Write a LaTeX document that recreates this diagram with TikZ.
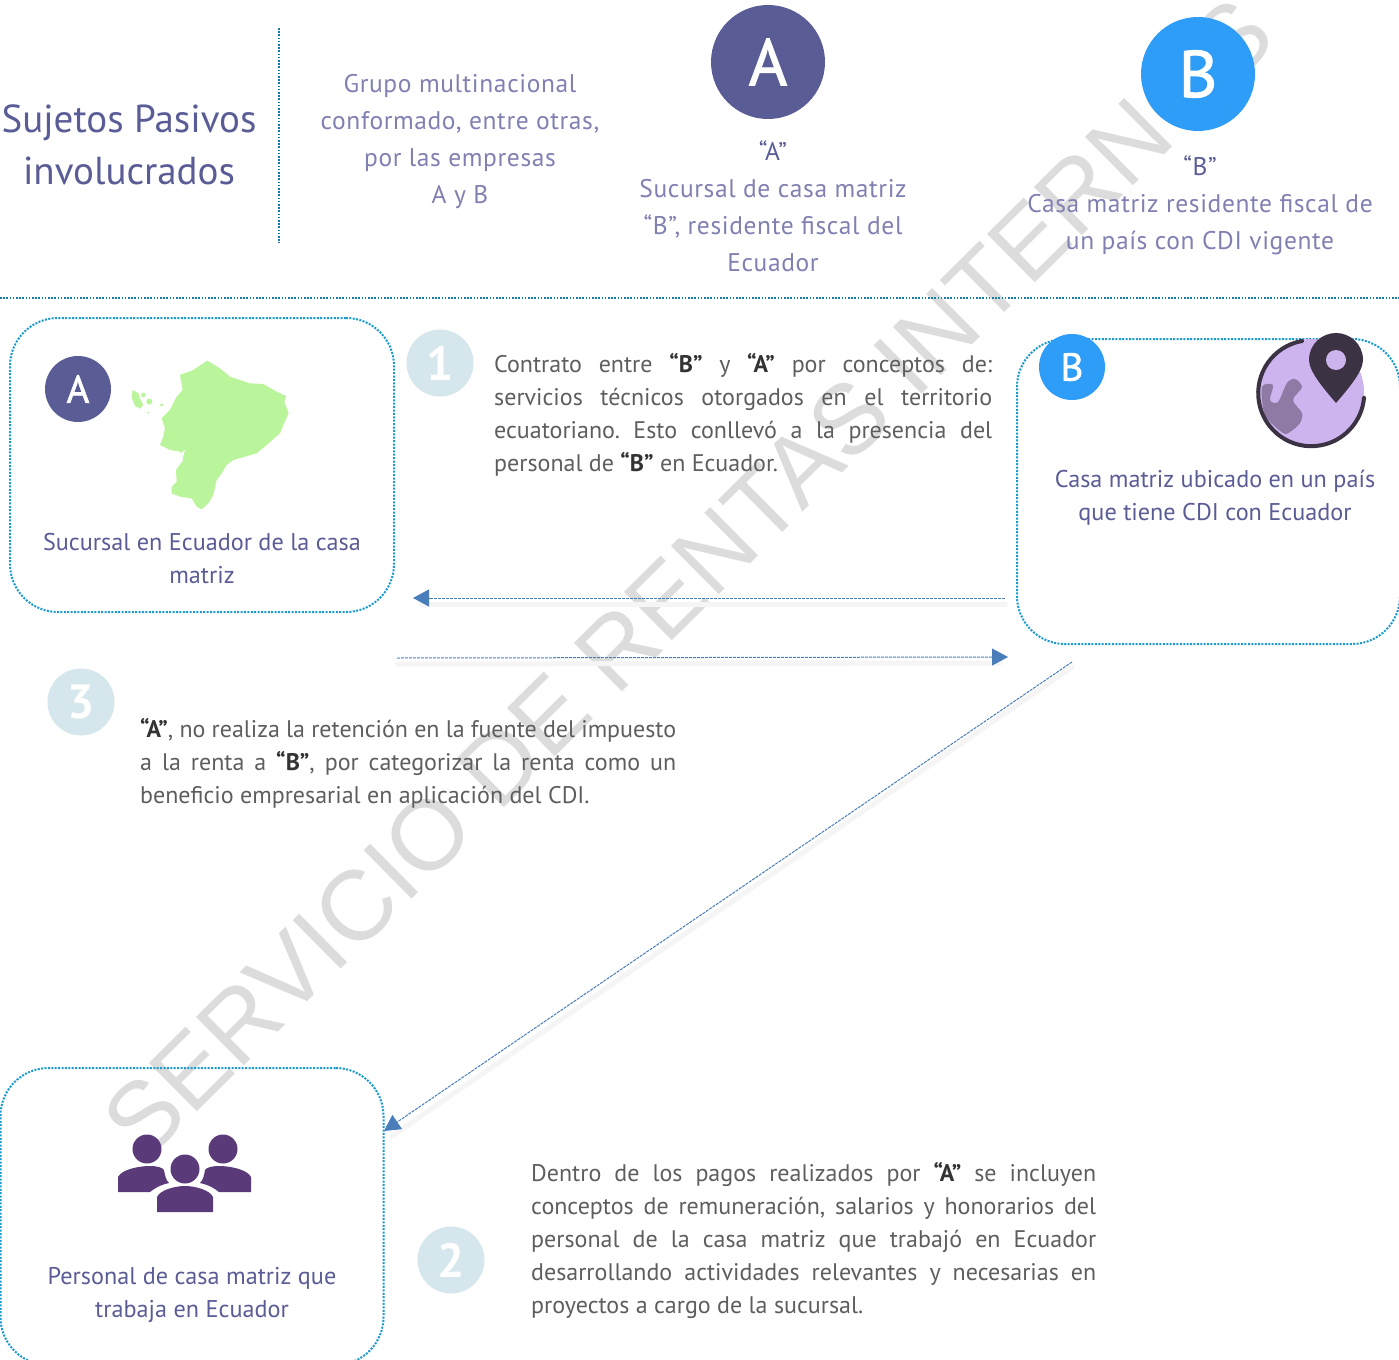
\documentclass[tikz,border=0pt]{standalone}
\usepackage{fontspec}
\setmainfont{PT Sans}
\newfontfamily\wmfont{Liberation Sans}
\newfontfamily\letterfont[FakeBold=1.5]{PT Sans}
\usetikzlibrary{arrows.meta}
\hyphenpenalty=10000
\tolerance=9999
\hbadness=10000
\frenchspacing
\definecolor{indigo}{HTML}{5A5C96}
\definecolor{lighttxt}{HTML}{8080B2}
\definecolor{bodytxt}{HTML}{5E5E5E}
\definecolor{dotblue}{HTML}{1A9BD0}
\definecolor{arrowblue}{HTML}{4A7EBB}
\definecolor{paleround}{HTML}{D5E6EC}
\definecolor{bcircle}{HTML}{2E9DF7}
\definecolor{wm}{HTML}{DCDCDC}
\definecolor{mapgreen}{HTML}{BBF59B}
\definecolor{lilac}{HTML}{CDB4EE}
\definecolor{land}{HTML}{8F7AA5}
\definecolor{pincol}{HTML}{3B3243}
\definecolor{people}{HTML}{5A3A78}
\tikzset{
 dotbox/.style={draw=dotblue,line width=2pt,dash pattern=on 2pt off 1.4pt,rounded corners=48pt,minimum width=#1},
 dotline/.style={draw=dotblue!80!black,line width=1.6pt,dash pattern=on 1.6pt off 1.6pt},
 conn/.style={draw=arrowblue,line width=1pt,dash pattern=on 3pt off 1pt,-{Triangle[length=16pt,width=17pt,fill=arrowblue]}},
 connsh/.style={draw=black!4,line width=5pt,line cap=round},
 head/.style={text=lighttxt,font=\fontsize{25.5}{37}\selectfont\addfontfeatures{LetterSpace=2.4},align=center,inner sep=0pt},
 boxtxt/.style={text=indigo,font=\fontsize{24.2}{33}\selectfont,align=center,inner sep=0pt},
 para/.style={text=bodytxt,font=\fontsize{24}{33}\selectfont,align=justify,inner sep=0pt,anchor=north west,text width=#1},
 letter/.style={circle,minimum size=#1,inner sep=0pt,text=white},
 digit/.style={circle,fill=paleround,minimum size=67pt,inner sep=0pt,text=white,font=\fontsize{48}{48}\selectfont\bfseries},
}
\newcommand{\qb}[1]{\textcolor{black!80}{\textbf{#1}}}
\newcommand{\qh}[1]{\textcolor{indigo}{#1}}
\begin{document}
\begin{tikzpicture}[x=1pt,y=-1pt]
\useasboundingbox (0,0) rectangle (1399,1359);
\clip (0,0) rectangle (1399,1359);
\fill[white] (0,0) rectangle (1399,1359);
% watermark
\node[rotate=44.7,text=wm,font=\wmfont\fontsize{99}{99}\selectfont,inner sep=0pt] (watermark) at (688,578) {SERVICIO DE RENTAS INTERNOS};
% header
\node[text=indigo,font=\fontsize{39}{52}\selectfont,align=center,inner sep=0pt] (title) at (129,145) {Sujetos Pasivos\\involucrados};
\coordinate (vt) at (279,28); \coordinate (vb) at (279,243);
\draw[dotline] (vt) -- (vb);
\coordinate (hl) at (0,298); \coordinate (hr) at (1399,298);
\draw[dotline] (hl) -- (hr);
\node[head] (grupo) at (460,141.5) {Grupo multinacional\\conformado, entre otras,\\por las empresas\\A y B};
\node[letter=114pt,fill=indigo,font=\letterfont\fontsize{66}{66}\selectfont] (bigA) at (768,62) {A};
\node[letter=114pt,fill=bcircle,font=\letterfont\fontsize{66}{66}\selectfont] (bigB) at (1198,74) {B};
\node[head] (descA) at (773,206) {\qh{“A”}\\Sucursal de casa matriz\\“B”, residente fiscal del\\Ecuador};
\node[head] (descB) at (1200,205) {\qh{“B”}\\Casa matriz residente fiscal de\\un país con CDI vigente};
% boxes
\node[dotbox=384pt,minimum height=294pt] (boxA) at (202,465) {};
\node[dotbox=383pt,minimum height=305pt] (boxB) at (1208.5,491.5) {};
\node[dotbox=383pt,minimum height=297pt] (boxC) at (192,1216.5) {};
% map of Ecuador
\begin{scope}[shift={(0,310)},x=0.3333pt,y=-0.3333pt]
\fill[mapgreen] (622,152)--(660,175)--(690,200)--(750,220)--(790,222)--(830,245)--(858,258)--(853,275)--(866,310)--(850,345)--(840,370)--(800,405)--(770,430)--(700,450)--(680,465)--(665,490)--(650,510)--(640,555)--(625,580)--(605,598)--(590,590)--(575,565)--(540,560)--(515,550)--(515,530)--(530,515)--(528,480)--(550,450)--(540,425)--(510,420)--(480,405)--(490,380)--(495,355)--(485,325)--(510,300)--(530,260)--(548,240)--(540,195)--(580,180)--cycle;
\fill[white] (555,420)--(540,432)--(530,460)--(545,455)--cycle;
\fill[mapgreen] (398,240)--(415,250)--(420,265)--(430,285)--(420,296)--(405,288)--(395,262)--cycle;
\fill[mapgreen] (430,255) circle[radius=7];
\fill[mapgreen] (448,275) circle[radius=9];
\fill[mapgreen] (485,285) circle[radius=5];
\fill[mapgreen] (445,308) circle[radius=3];
\end{scope}
\node[letter=66pt,fill=indigo,font=\letterfont\fontsize{39}{39}\selectfont] (smallA) at (78,389) {A};
\node[boxtxt] (txtA) at (202,559) {Sucursal en Ecuador de la casa\\matriz};
% globe
\fill[lilac] (1311,392) circle[radius=53];
\fill[land] plot[smooth cycle,tension=0.5] coordinates {(1262,387) (1273,385) (1270,400) (1278,402) (1287,383) (1295,379) (1302,387) (1293,400) (1302,413) (1300,423) (1290,432) (1283,433) (1265,415)};
\draw[pincol,line width=4pt,line cap=round] (1302,341) arc[start angle=-100,end angle=-355,radius=53];
\fill[pincol] (1336,403) .. controls (1325,390) and (1309,372) .. (1309,360) .. controls (1309,344) and (1322,333) .. (1336,333) .. controls (1350,333) and (1363,344) .. (1363,360) .. controls (1363,372) and (1347,390) .. (1336,403) -- cycle;
\fill[lilac] (1336,360) circle[radius=10];
\node[letter=66pt,fill=bcircle,font=\letterfont\fontsize{39}{39}\selectfont] (smallB) at (1072,367) {B};
\node[boxtxt] (txtB) at (1215,498) {Casa matriz ubicado en un país\\que tiene CDI con Ecuador};
% people
\begin{scope}[fill=people]
\fill (147,1149) circle[radius=14.5];
\fill (223,1149) circle[radius=14.5];
\fill (185,1169) circle[radius=14.5];
\fill (118,1192) -- (118,1177) .. controls (122,1169) and (140,1166) .. (150,1166) .. controls (158,1166) and (163,1168) .. (164,1170) .. controls (165,1176) and (166,1180) .. (169,1183) .. controls (160,1185) and (155,1188) .. (150,1192) -- cycle;
\fill (251,1192) -- (251,1177) .. controls (247,1169) and (229,1166) .. (219,1166) .. controls (211,1166) and (206,1168) .. (205,1170) .. controls (204,1176) and (203,1180) .. (200,1183) .. controls (209,1185) and (214,1188) .. (219,1192) -- cycle;
\fill (157,1212) -- (157,1197) .. controls (160,1190) and (175,1186) .. (185,1186) .. controls (195,1186) and (210,1190) .. (213,1197) -- (213,1212) -- cycle;
\end{scope}
\node[boxtxt] (txtC) at (192,1295) {Personal de casa matriz que\\trabaja en Ecuador};
% digits
\node[digit] (d1) at (440,363) {1};
\node[digit] (d3) at (81,702) {3};
\node[digit] (d2) at (451,1260) {2};
% paragraphs
\node[para=498pt] (p1) at (494,353) {Contrato entre \qb{“B”} y \qb{“A”} por conceptos de:\linebreak servicios técnicos otorgados en el territorio\linebreak ecuatoriano. Esto conllevó a la presencia del\linebreak personal de \qb{“B”} en Ecuador.};
\node[para=536pt] (p3) at (140,718) {\qb{“A”}, no realiza la retención en la fuente del impuesto\linebreak a la renta a \qb{“B”}, por categorizar la renta como un\linebreak beneficio empresarial en aplicación del CDI.};
\node[para=565pt] (p2) at (531,1162) {Dentro de los pagos realizados por \qb{“A”} se incluyen\linebreak conceptos de remuneración, salarios y honorarios del\linebreak personal de la casa matriz que trabajó en Ecuador\linebreak desarrollando actividades relevantes y necesarias en\linebreak proyectos a cargo de la sucursal.};
% connectors
\coordinate (c1s) at (1005,598); \coordinate (c1e) at (413,598);
\coordinate (c2s) at (397,658); \coordinate (c2e) at (1008,657);
\coordinate (c3s) at (1072,662); \coordinate (c3e) at (384,1131);
\draw[connsh] ([yshift=-6pt]c1s) -- ([yshift=-6pt,xshift=8pt]c1e);
\draw[connsh] ([yshift=-6pt]c2s) -- ([yshift=-6pt,xshift=-8pt]c2e);
\draw[connsh] ([yshift=-5pt]c3s) -- ([yshift=-5pt,xshift=8pt]c3e);
\draw[conn] (c1s) -- (c1e);
\draw[conn] (c2s) -- (c2e);
\draw[conn] (c3s) -- (c3e);
\end{tikzpicture}
\end{document}
